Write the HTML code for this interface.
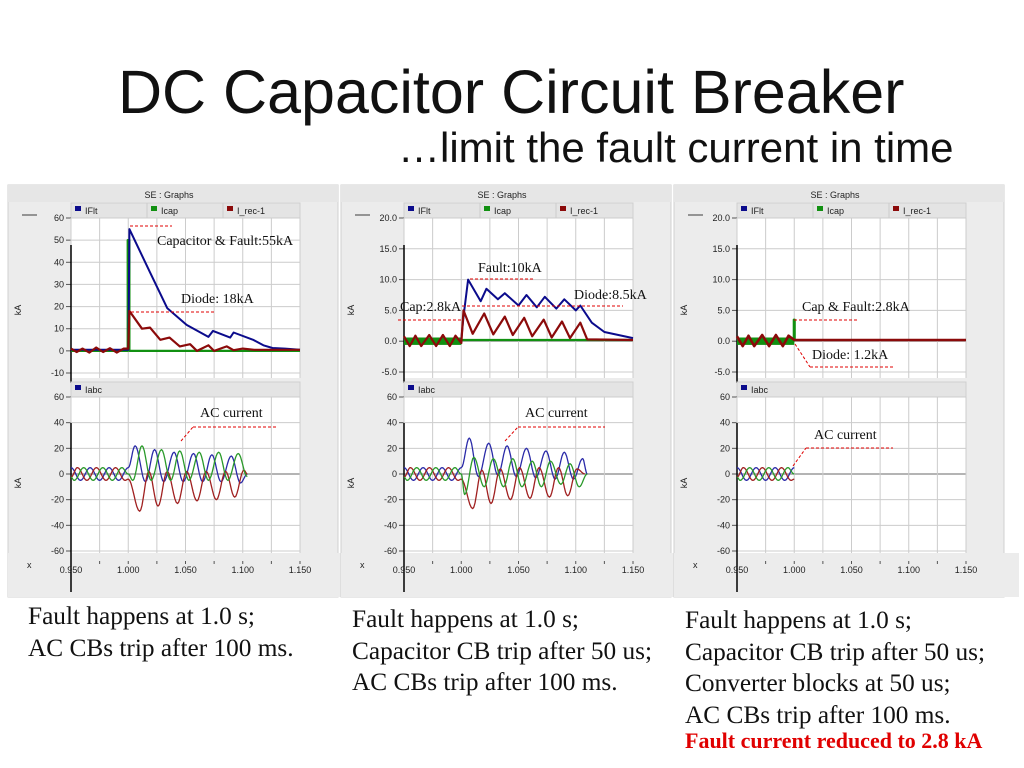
<!DOCTYPE html>
<html><head><meta charset="utf-8">
<style>
body{margin:0;background:#fff;width:1024px;height:768px;overflow:hidden;position:relative;font-family:"Liberation Sans",sans-serif}
.t{position:absolute;white-space:nowrap}
.cap{font-family:"Liberation Serif",serif;font-size:25.3px;line-height:31.5px;color:#111}
</style></head><body>
<div class="t" style="left:118px;top:57px;font-size:61px;color:#111">DC Capacitor Circuit Breaker</div>
<div class="t" style="left:398px;top:124px;font-size:42px;color:#111">…limit the fault current in time</div>
<svg id="svg" width="1024" height="768" style="position:absolute;left:0;top:0"></svg>
<div class="t cap" style="left:28px;top:601px">Fault happens at 1.0 s;<br>AC CBs trip after 100 ms.</div>
<div class="t cap" style="left:352px;top:604px">Fault happens at 1.0 s;<br>Capacitor CB trip after 50 us;<br>AC CBs trip after 100 ms.</div>
<div class="t cap" style="left:685px;top:605px">Fault happens at 1.0 s;<br>Capacitor CB trip after 50 us;<br>Converter blocks at 50 us;<br>AC CBs trip after 100 ms.</div>
<div class="t" style="left:685px;top:728px;font-family:'Liberation Serif',serif;font-size:22px;font-weight:bold;color:#e00000">Fault current reduced to 2.8 kA</div>
<script>
// ---- data ----
const xTicks=[0.950,1.000,1.050,1.100,1.150];
const xTickLabels=["0.950","1.000","1.050","1.100","1.150"];
const topTicks1=[60,50,40,30,20,10,0,-10];
const topTicks23=[20,15,10,5,0,-5];
const topTickLabels23=["20.0","15.0","10.0","5.0","0.0","-5.0"];
const botTicks=[60,40,20,0,-20,-40,-60];
// panel 1 DC (t, kA)
const p1Flt=[[0.95,0.5],[1.0,0.5],[1.0005,20],[1.001,55],[1.019,35.5],[1.034,19.3],[1.051,11.7],[1.070,6.3],[1.074,9],[1.089,6],[1.092,8.3],[1.109,5],[1.118,2.5],[1.126,1.3],[1.137,1],[1.15,0.5]];
const p1Rec=[[0.95,1],[0.955,-0.5],[0.96,1],[0.966,-0.8],[0.972,1.5],[0.978,-0.5],[0.984,1.2],[0.99,-0.8],[0.996,1],[1.0,1],[1.001,18],[1.012,10],[1.019,10.5],[1.028,5],[1.036,6],[1.045,2],[1.054,3],[1.06,0],[1.07,2.5],[1.075,0],[1.086,2],[1.092,0.3],[1.1,1],[1.11,0.5],[1.15,0.5]];
const p1Cap=[[0.95,0],[0.9995,0],[0.9995,50],[1.001,50],[1.001,0],[1.15,0]];
// panel 2 DC
const p2Flt=[[1.0,0.3],[1.002,4],[1.006,10],[1.017,6.5],[1.022,8.5],[1.032,6.8],[1.038,7.8],[1.05,5.8],[1.057,7.5],[1.066,5.5],[1.073,7.2],[1.083,5.3],[1.09,6.8],[1.1,5],[1.104,5.8],[1.114,3],[1.125,1.5],[1.15,0.5]];
const p2Rec=[[0.95,0.8],[0.955,-0.8],[0.96,0.9],[0.965,-0.8],[0.972,1],[0.978,-0.8],[0.984,1],[0.99,-0.8],[0.995,0.9],[1.0,-0.3],[1.002,5],[1.01,1.2],[1.02,4.5],[1.028,1.1],[1.038,4],[1.045,1],[1.055,3.8],[1.062,0.8],[1.072,3.5],[1.079,0.6],[1.088,3.2],[1.095,0.5],[1.104,3],[1.11,0.3],[1.15,0.2]];
const p2Cap=[[0.95,0],[1.0,0],[1.0,0.2],[1.15,0.2]];
// panel 3 DC
const p3Rec=[[0.95,0.8],[0.955,-0.8],[0.96,0.9],[0.965,-0.8],[0.972,1],[0.978,-0.8],[0.984,1],[0.99,-0.8],[0.995,0.9],[1.0,0.2],[1.15,0.2]];
const p3Cap=[[0.95,0],[0.9995,0],[0.9995,3.5],[1.0005,3.5],[1.0005,0.2],[1.15,0.2]];
// AC extremes (t, kA)
const preA=[[0.950,5],[0.9583,-5],[0.9667,5],[0.975,-5],[0.9833,5],[0.9917,-5],[1.000,5]];
const preB=[[0.950,-2.5],[0.9556,5],[0.9639,-5],[0.9722,5],[0.9806,-5],[0.9889,5],[0.9972,-5],[1.000,-4]];
const preC=[[0.950,-2.5],[0.9528,-5],[0.9611,5],[0.9694,-5],[0.9778,5],[0.9861,-5],[0.9944,5],[1.000,0]];
const p1A=[[1.006,22],[1.015,-6],[1.023,19],[1.031,-6],[1.040,17],[1.048,-6],[1.057,16],[1.065,-6],[1.073,15],[1.081,-6],[1.090,14],[1.098,-7],[1.104,0]];
const p1B=[[1.010,-29],[1.018,2],[1.026,-25],[1.034,2],[1.043,-23],[1.051,2],[1.060,-21],[1.068,2],[1.077,-20],[1.085,2],[1.093,-18],[1.101,3],[1.104,0]];
const p1C=[[1.004,-5],[1.012,22],[1.020,-5],[1.029,19],[1.037,-5],[1.045,18],[1.053,-5],[1.062,17],[1.070,-5],[1.079,17],[1.087,-5],[1.096,16],[1.104,-2]];
const p2A=[[1.007,28],[1.015,-2],[1.024,24],[1.032,-1],[1.040,22],[1.048,-2],[1.057,20],[1.065,-3],[1.074,18],[1.082,-4],[1.090,17],[1.098,-4],[1.106,12],[1.110,0]];
const p2B=[[1.010,-27],[1.018,3],[1.026,-23],[1.034,4],[1.043,-20],[1.051,5],[1.060,-19],[1.068,5],[1.077,-18],[1.085,5],[1.093,-17],[1.101,4],[1.108,0]];
const p2C=[[1.003,-16],[1.011,13],[1.020,-10],[1.028,12],[1.037,-10],[1.045,12],[1.053,-10],[1.062,10],[1.070,-10],[1.078,10],[1.087,-8],[1.095,8],[1.103,-10],[1.110,0]];

const NS="http://www.w3.org/2000/svg";
const svg=document.getElementById('svg');
function el(tag,attrs,parent){const e=document.createElementNS(NS,tag);for(const k in attrs)e.setAttribute(k,attrs[k]);(parent||svg).appendChild(e);return e;}
function txt(x,y,s,attrs,parent){const e=el('text',Object.assign({x:x,y:y},attrs),parent);e.textContent=s;return e;}

const BLUE="#0b0b8c",GREEN="#119011",RED="#8b0a0a";
const plotLefts=[71,404,737];
const PW=229;
function xS(k,t){return plotLefts[k]+(t-0.95)/0.2*PW;}
function yTop(k,v){return k===0?218+(60-v)/70*155:218+(20-v)/25*154;}
function yBot(v){return 397+(60-v)/120*154;}

function line(k,pts,ys,color,w,name){
  const d=pts.map((p,i)=>(i?'L':'M')+xS(k,p[0]).toFixed(1)+' '+ys(p[1]).toFixed(1)).join(' ');
  const e=el('path',{d:d,fill:'none',stroke:color,'stroke-width':w,'stroke-linejoin':'round'});
  
  
}
function wave(k,ext,color,name){
  const pts=[];
  for(let i=0;i<ext.length;i++){
    if(i===0){pts.push(ext[0]);continue;}
    const [t0,v0]=ext[i-1],[t1,v1]=ext[i];
    for(let s=1;s<=8;s++){const f=s/8;pts.push([t0+(t1-t0)*f,v0+(v1-v0)*(1-Math.cos(Math.PI*f))/2]);}
  }
  line(k,pts,yBot,color,1.3,name);
}
function dash(x1,y1,x2,y2){const e=el('line',{x1:x1,y1:y1,x2:x2,y2:y2,stroke:'#e00000','stroke-width':1,'stroke-dasharray':'3,2'});
  }
function ann(x,y,s){const e=txt(x,y,s,{'font-family':'Liberation Serif,serif','font-size':14,fill:'#111'});
  }

for(let k=0;k<3;k++){
  const L=plotLefts[k],R=L+PW;
  const g=el('g',{});
  
  
  el('rect',{x:L-63,y:185,width:330,height:412,fill:'#ececec',stroke:'#d0d0d0'},g);
  el('rect',{x:L-63,y:185,width:330,height:17,fill:'#e6e6e6'},g);
  txt(L+98,198,'SE : Graphs',{'font-size':9,fill:'#222','text-anchor':'middle'},g);
  el('rect',{x:L-63,y:553,width:345,height:44,fill:'#ececec'},g);
  el('rect',{x:L,y:203,width:PW,height:15,fill:'#e4e4e4',stroke:'#cfcfcf'},g);
  el('line',{x1:L+76,y1:203,x2:L+76,y2:218,stroke:'#ccc'},g);
  el('line',{x1:L+152,y1:203,x2:L+152,y2:218,stroke:'#ccc'},g);
  el('line',{x1:L-49,y1:215,x2:L-34,y2:215,stroke:'#777','stroke-width':1.5},g);
  [[BLUE,'IFlt',2],[GREEN,'Icap',78],[RED,'I_rec-1',154]].forEach(([c,n,o])=>{
    const lg=el('g',{},g);
    
    
    el('rect',{x:L+o+2,y:206,width:6,height:5,fill:c},lg);
    txt(L+o+12,214,n,{'font-size':9,fill:'#222'},lg);
  });
  el('rect',{x:L,y:218,width:PW,height:160,fill:'#fff'},g);
  const tt=k===0?topTicks1:topTicks23;
  tt.forEach((v,i)=>{const y=yTop(k,v);
    el('line',{x1:L,y1:y,x2:R,y2:y,stroke:v===0?'#999':'#ccc','stroke-width':v===0?1.2:1},g);
    el('line',{x1:L-5,y1:y,x2:L,y2:y,stroke:'#555'},g);
    txt(L-7,y+3,k===0?String(v):topTickLabels23[i],{'font-size':9,fill:'#222','text-anchor':'end'},g);});
  for(let j=0;j<=8;j++){const x=xS(k,0.95+0.025*j);el('line',{x1:x,y1:218,x2:x,y2:378,stroke:'#ccc'},g);}
  el('line',{x1:L,y1:245,x2:L,y2:383,stroke:'#000','stroke-width':1.5},g);
  txt(0,0,'kA',{'font-size':9,fill:'#222',transform:`translate(${L-50},310) rotate(-90)`,'text-anchor':'middle'},g);
  el('rect',{x:L,y:382,width:PW,height:15,fill:'#e4e4e4',stroke:'#cfcfcf'},g);
  el('rect',{x:L+4,y:385,width:6,height:5,fill:BLUE},g);
  txt(L+14,393,'Iabc',{'font-size':9,fill:'#222'},g);
  el('rect',{x:L,y:397,width:PW,height:156,fill:'#fff'},g);
  botTicks.forEach(v=>{const y=yBot(v);
    el('line',{x1:L,y1:y,x2:R,y2:y,stroke:v===0?'#888':'#ccc','stroke-width':v===0?1.2:1},g);
    el('line',{x1:L-5,y1:y,x2:L,y2:y,stroke:'#555'},g);
    txt(L-7,y+3,String(v),{'font-size':9,fill:'#222','text-anchor':'end'},g);});
  for(let j=0;j<=8;j++){const x=xS(k,0.95+0.025*j);el('line',{x1:x,y1:397,x2:x,y2:553,stroke:'#ccc'},g);
    el('line',{x1:x,y1:561,x2:x,y2:564,stroke:'#555'},g);}
  el('line',{x1:L,y1:423,x2:L,y2:592,stroke:'#000','stroke-width':1.5},g);
  txt(0,0,'kA',{'font-size':9,fill:'#222',transform:`translate(${L-50},483) rotate(-90)`,'text-anchor':'middle'},g);
  txt(L-44,568,'x',{'font-size':9,fill:'#222'},g);
  xTicks.forEach((t,i)=>txt(xS(k,t),573,xTickLabels[i],{'font-size':9,fill:'#222','text-anchor':'middle'},g));
}
const y0=v=>yTop(0,v),y1=v=>yTop(1,v),y2=v=>yTop(2,v);
line(0,p1Cap,y0,GREEN,2.2,'icap-line-1');
line(0,p1Flt,y0,BLUE,2,'iflt-line-1');
line(0,p1Rec,y0,RED,2.2,'irec-line-1');
el('rect',{x:xS(1,0.95),y:y1(0.6),width:xS(1,1.0)-xS(1,0.95),height:y1(-0.6)-y1(0.6),fill:GREEN});
line(1,p2Cap,y1,GREEN,2.2,'icap-line-2');
line(1,p2Flt,y1,BLUE,2,'iflt-line-2');
line(1,p2Rec,y1,RED,2.2,'irec-line-2');
el('rect',{x:xS(2,0.95),y:y2(0.6),width:xS(2,1.0)-xS(2,0.95),height:y2(-0.6)-y2(0.6),fill:GREEN});
line(2,p3Cap,y2,GREEN,2,'icap-line-3');
line(2,p3Rec,y2,RED,2.6,'irec-line-3');
[[p1A,p1B,p1C],[p2A,p2B,p2C],[[],[],[]]].forEach((post,k)=>{
  wave(k,preA.concat(post[0]),'#2a2aa8','iabc-phase-a-'+(k+1));
  wave(k,preB.concat(post[1]),'#a02020','iabc-phase-b-'+(k+1));
  wave(k,preC.concat(post[2]),'#2a9a2a','iabc-phase-c-'+(k+1));
});
ann(157,245,'Capacitor & Fault:55kA');dash(130,226,172,226);
ann(181,303,'Diode: 18kA');dash(131,312,214,312);
ann(200,417,'AC current');dash(193,427,278,427);dash(181,441,193,427);
ann(478,272,'Fault:10kA');dash(470,279,533,279);
ann(574,299,'Diode:8.5kA');dash(462,306,623,306);
ann(400,311,'Cap:2.8kA');dash(398,320,461,320);
ann(525,417,'AC current');dash(518,427,605,427);dash(505,441,518,427);
ann(802,311,'Cap & Fault:2.8kA');dash(794,320,857,320);
ann(812,359,'Diode: 1.2kA');dash(810,367,895,367);dash(795,344,810,367);
ann(814,439,'AC current');dash(806,448,893,448);dash(793,466,806,448);
</script>
</body></html>
